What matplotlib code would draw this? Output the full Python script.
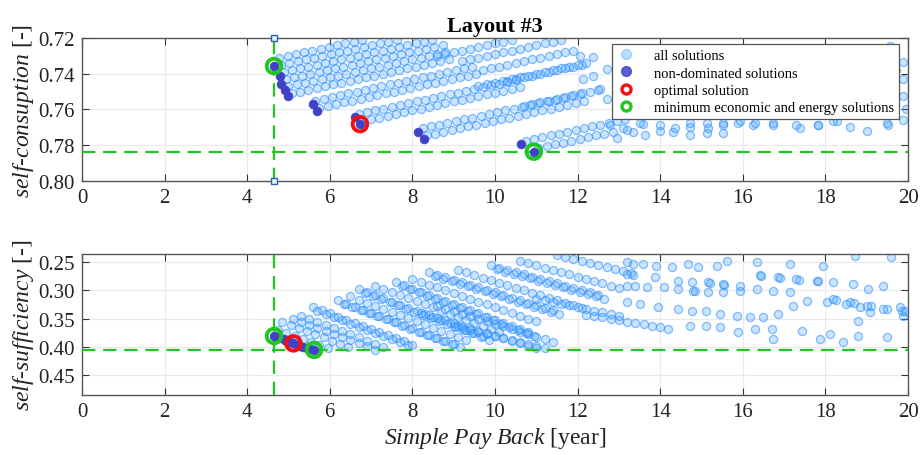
import matplotlib.pyplot as plt
from matplotlib.lines import Line2D
from matplotlib.ticker import FormatStrFormatter

plt.rcParams['font.family'] = ['Liberation Serif', 'DejaVu Serif']
plt.rcParams['mathtext.fontset'] = 'custom'
plt.rcParams['mathtext.it'] = 'Liberation Serif:italic'
plt.rcParams['mathtext.rm'] = 'Liberation Serif'

# ---------------- top panel: self-consuption ----------------
# all solutions, read streak by streak from the picture
top_streaks_x = [
    [4.78, 4.98, 5.18, 5.38, 5.58, 5.78, 5.98, 6.18, 6.38, 6.58, 6.78],
    [4.82, 5.02, 5.22, 5.42, 5.62, 5.82, 6.02, 6.22, 6.42, 6.62, 6.82, 7.02, 7.22, 7.42, 7.62],
    [4.88, 5.08, 5.28, 5.48, 5.68, 5.88, 6.08, 6.28, 6.48, 6.68, 6.88, 7.08, 7.28, 7.48, 7.68, 7.88, 8.08, 8.28, 8.48],
    [4.93, 5.13, 5.33, 5.53, 5.73, 5.93, 6.13, 6.33, 6.53, 6.73, 6.93, 7.13, 7.33, 7.53, 7.73, 7.93, 8.13, 8.33, 8.53, 8.73],
    [5.00, 5.20, 5.40, 5.60, 5.80, 6.00, 6.20, 6.40, 6.60, 6.80, 7.00, 7.20, 7.40, 7.60, 7.80, 8.00, 8.20, 8.40, 8.60, 8.80],
    [5.08, 5.28, 5.48, 5.68, 5.88, 6.08, 6.28, 6.48, 6.68, 6.88, 7.08, 7.28, 7.48, 7.68, 7.88, 8.08, 8.28, 8.48, 8.68, 8.88],
    [5.65, 5.85, 6.05, 6.25, 6.45, 6.65, 6.85, 7.05, 7.25, 7.45, 7.65, 7.85, 8.05, 8.25, 8.45, 8.65, 8.85, 9.05, 9.25, 9.45],
    [5.75, 5.95, 6.15, 6.35, 6.55, 6.75, 6.95, 7.15, 7.35, 7.55, 7.75, 7.95, 8.15, 8.35, 8.55, 8.75, 8.95, 9.15, 9.35, 9.55],
    [6.70, 6.90, 7.10, 7.30, 7.50, 7.70, 7.90, 8.10, 8.30, 8.50, 8.70, 8.90, 9.10, 9.30, 9.50, 9.70, 9.90, 10.10, 10.30, 10.50],
    [6.80, 7.00, 7.20, 7.40, 7.60, 7.80, 8.00, 8.20, 8.40, 8.60, 8.80, 9.00, 9.20, 9.40, 9.60, 9.80, 10.00, 10.20, 10.40, 10.60],
    [8.25, 8.45, 8.65, 8.85, 9.05, 9.25, 9.45, 9.65, 9.85, 10.05, 10.25, 10.45, 10.65, 10.85, 11.05, 11.25, 11.45, 11.65, 11.85, 12.05],
    [8.35, 8.55, 8.75, 8.95, 9.15, 9.35, 9.55, 9.75, 9.95, 10.15, 10.35, 10.55, 10.75, 10.95, 11.15, 11.35, 11.55, 11.75, 11.95, 12.15],
    [10.75, 10.95, 11.15, 11.35, 11.55, 11.75, 11.95, 12.15, 12.35, 12.55, 12.75, 12.95, 13.15],
    [11.05, 11.25, 11.45, 11.65, 11.85, 12.05, 12.25, 12.45, 12.65, 12.85],
    [8.60, 8.80, 9.00, 9.20, 9.40, 9.60, 9.80, 10.00, 10.20, 10.40],
    [9.20, 9.40, 9.60, 9.80, 10.00, 10.20, 10.40, 10.60, 10.80, 11.00, 11.20, 11.40, 11.60],
    [9.70, 9.90, 10.10, 10.30, 10.50, 10.70, 10.90, 11.10, 11.30, 11.50, 11.70, 11.90],
    [10.30, 10.50, 10.70, 10.90, 11.10, 11.30, 11.50, 11.70, 11.90, 12.10],
    [9.60, 9.80, 10.00, 10.20, 10.40, 10.60, 10.80, 11.00, 11.20, 11.40, 11.60, 11.80, 12.00, 12.20],
    [10.70, 10.90, 11.10, 11.30, 11.50, 11.70, 11.90, 12.10, 12.30, 12.50],
]
top_streaks_y = [
    [.731, .730, .729, .728, .727, .726, .725, .724, .723, .722, .721],
    [.735, .734, .733, .732, .731, .730, .729, .728, .727, .726, .725, .724, .723, .722, .721],
    [.739, .738, .737, .736, .735, .734, .733, .732, .731, .730, .729, .728, .727, .726, .725, .724, .723, .722, .721],
    [.743, .742, .741, .740, .739, .738, .737, .736, .735, .734, .733, .732, .731, .730, .729, .728, .727, .726, .725, .724],
    [.747, .746, .745, .744, .743, .742, .741, .740, .739, .738, .737, .736, .735, .734, .733, .732, .731, .730, .729, .728],
    [.751, .750, .749, .748, .747, .746, .745, .744, .743, .742, .741, .740, .739, .738, .737, .736, .735, .734, .733, .732],
    [.755, .754, .753, .752, .751, .750, .749, .748, .747, .746, .745, .744, .743, .742, .741, .740, .739, .738, .737, .736],
    [.759, .758, .757, .756, .755, .754, .753, .752, .751, .750, .749, .748, .747, .746, .745, .744, .743, .742, .741, .740],
    [.7625, .7615, .7605, .7595, .7585, .7575, .7565, .7555, .7545, .7535, .7525, .7515, .7505, .7495, .7485, .7475, .7465, .7455, .7445, .7435],
    [.7665, .7655, .7645, .7635, .7625, .7615, .7605, .7595, .7585, .7575, .7565, .7555, .7545, .7535, .7525, .7515, .7505, .7495, .7485, .7475],
    [.7705, .7695, .7685, .7675, .7665, .7655, .7645, .7635, .7625, .7615, .7605, .7595, .7585, .7575, .7565, .7555, .7545, .7535, .7525, .7515],
    [.7745, .7735, .7725, .7715, .7705, .7695, .7685, .7675, .7665, .7655, .7645, .7635, .7625, .7615, .7605, .7595, .7585, .7575, .7565, .7555],
    [.7775, .7765, .7755, .7745, .7735, .7725, .7715, .7705, .7695, .7685, .7675, .7665, .7655],
    [.7815, .7805, .7795, .7785, .7775, .7765, .7755, .7745, .7735, .7725],
    [.730, .729, .728, .727, .726, .725, .724, .723, .722, .721],
    [.733, .732, .731, .730, .729, .728, .727, .726, .725, .724, .723, .722, .721],
    [.738, .737, .736, .735, .734, .733, .732, .731, .730, .729, .728, .727],
    [.744, .743, .742, .741, .740, .739, .738, .737, .736, .735],
    [.747, .746, .745, .744, .743, .742, .741, .740, .739, .738, .737, .736, .735, .734],
    [.758, .757, .756, .755, .754, .753, .752, .751, .750, .749],
]
# scattered solutions on the right
top_sparse_x = [12.13, 12.38, 12.54, 12.70, 12.78, 12.95, 13.10, 13.35, 13.58, 13.99, 14.32, 14.72,
                15.16, 15.53, 15.93, 16.25, 16.73, 17.30, 17.82, 18.27, 19.52, 19.56, 19.88, 19.88,
                19.88, 13.19, 13.51, 13.63, 13.99, 14.36, 14.72, 15.13, 15.52, 15.89, 16.30, 16.73,
                17.38, 17.82, 18.18, 19.49, 19.88, 12.06, 12.37, 12.71, 12.95, 13.20, 14.72, 15.13,
                15.52, 18.60, 19.00, 19.95, 19.70]
top_sparse_y = [.7428, .7412, .7484, .7539, .7689, .7762, .7706, .7724, .7679, .7688, .7724, .7696,
                .7706, .7689, .7667, .7684, .7684, .7689, .7684, .7667, .7689, .7244, .7333, .7428,
                .7522, .7715, .7678, .7743, .7723, .7706, .7678, .7678, .7678, .7678, .7678, .7678,
                .7706, .7689, .7667, .7678, .7661, .7300, .7306, .7372, .7445, .7500, .7743, .7734,
                .7734, .7700, .7720, .7600, .7380]
top_nd_x = [4.65, 4.79, 4.83, 4.91, 4.98, 5.60, 5.70, 6.61, 6.73, 8.14, 8.28, 10.63, 10.94]
top_nd_y = [.7357, .7410, .7456, .7493, .7526, .7567, .7608, .7641, .7682, .7724, .7767, .7795, .7836]
top_opt_x, top_opt_y = [6.73], [.7682]
top_min_x, top_min_y = [4.65, 10.94], [.7357, .7836]
top_hline = 0.7836

# ---------------- bottom panel: self-sufficiency ----------------
bot_streaks_x = [
    [4.75, 4.95, 5.15, 5.35, 5.55, 5.75, 5.95],
    [4.85, 5.05, 5.25, 5.45, 5.65, 5.85, 6.05, 6.25, 6.45],
    [5.10, 5.30, 5.50, 5.70, 5.90, 6.10, 6.30, 6.50, 6.70, 6.90, 7.10],
    [5.30, 5.50, 5.70, 5.90, 6.10, 6.30, 6.50, 6.70, 6.90, 7.10, 7.30],
    [5.60, 5.80, 6.00, 6.20, 6.40, 6.60, 6.80, 7.00, 7.20, 7.40, 7.60, 7.80, 8.00],
    [5.70, 5.90, 6.10, 6.30, 6.50, 6.70, 6.90, 7.10, 7.30, 7.50, 7.70, 7.90],
    [6.20, 6.40, 6.60, 6.80, 7.00, 7.20, 7.40, 7.60, 7.80, 8.00, 8.20, 8.40, 8.60, 8.80, 9.00],
    [6.35, 6.55, 6.75, 6.95, 7.15, 7.35, 7.55, 7.75, 7.95, 8.15, 8.35, 8.55, 8.75, 8.95, 9.15],
    [6.70, 6.90, 7.10, 7.30, 7.50, 7.70, 7.90, 8.10, 8.30, 8.50, 8.70, 8.90, 9.10, 9.30, 9.50, 9.70],
    [6.85, 7.05, 7.25, 7.45, 7.65, 7.85, 8.05, 8.25, 8.45, 8.65, 8.85, 9.05, 9.25, 9.45, 9.65, 9.85],
    [7.60, 7.80, 8.00, 8.20, 8.40, 8.60, 8.80, 9.00, 9.20, 9.40, 9.60, 9.80, 10.00, 10.20, 10.40, 10.60, 10.80],
    [7.75, 7.95, 8.15, 8.35, 8.55, 8.75, 8.95, 9.15, 9.35, 9.55, 9.75, 9.95, 10.15, 10.35, 10.55, 10.75, 10.95],
    [8.40, 8.60, 8.80, 9.00, 9.20, 9.40, 9.60, 9.80, 10.00, 10.20, 10.40, 10.60, 10.80, 11.00, 11.20, 11.40],
    [8.55, 8.75, 8.95, 9.15, 9.35, 9.55, 9.75, 9.95, 10.15, 10.35, 10.55, 10.75, 10.95, 11.15, 11.35, 11.55],
    [9.90, 10.10, 10.30, 10.50, 10.70, 10.90, 11.10, 11.30, 11.50, 11.70, 11.90, 12.10, 12.30, 12.50],
    [10.05, 10.25, 10.45, 10.65, 10.85, 11.05, 11.25, 11.45, 11.65, 11.85, 12.05, 12.25, 12.45, 12.65],
    [11.50, 11.70, 11.90, 12.10, 12.30, 12.50, 12.70, 12.90, 13.10, 13.30],
    [8.20, 8.40, 8.60, 8.80, 9.00, 9.20, 9.40, 9.60, 9.80, 10.00, 10.20, 10.40, 10.60, 10.80, 11.00],
    [8.60, 8.80, 9.00, 9.20, 9.40, 9.60, 9.80, 10.00, 10.20, 10.40, 10.60, 10.80, 11.00, 11.20, 11.40],
    [12.20, 12.40, 12.60, 12.80, 13.00, 13.20, 13.40, 13.60, 13.80, 14.00, 14.20],
    [11.00, 11.20, 11.40, 11.60, 11.80, 12.00, 12.20, 12.40, 12.60, 12.80, 13.00],
    [6.50, 6.70, 6.90, 7.10, 7.30, 7.50, 7.70, 7.90, 8.10, 8.30, 8.50, 8.70, 8.90, 9.10, 9.30],
    [7.10, 7.30, 7.50, 7.70, 7.90, 8.10, 8.30, 8.50, 8.70, 8.90, 9.10, 9.30, 9.50, 9.70, 9.90, 10.10],
    [8.00, 8.20, 8.40, 8.60, 8.80, 9.00, 9.20, 9.40, 9.60, 9.80, 10.00, 10.20, 10.40, 10.60, 10.80, 11.00],
    [9.10, 9.30, 9.50, 9.70, 9.90, 10.10, 10.30, 10.50, 10.70, 10.90, 11.10, 11.30, 11.50, 11.70, 11.90, 12.10],
    [10.60, 10.80, 11.00, 11.20, 11.40, 11.60, 11.80, 12.00, 12.20, 12.40, 12.60, 12.80, 13.00],
    [9.00, 9.20, 9.40, 9.60, 9.80, 10.00, 10.20, 10.40, 10.60, 10.80, 11.00, 11.20],
]
bot_streaks_y = [
    [.3700, .3755, .3810, .3865, .3920, .3975, .4030],
    [.3560, .3615, .3670, .3725, .3780, .3835, .3890, .3945, .4000],
    [.3500, .3555, .3610, .3665, .3720, .3775, .3830, .3885, .3940, .3995, .4050],
    [.3450, .3505, .3560, .3615, .3670, .3725, .3780, .3835, .3890, .3945, .4000],
    [.3300, .3355, .3410, .3465, .3520, .3575, .3630, .3685, .3740, .3795, .3850, .3905, .3960],
    [.3370, .3425, .3480, .3535, .3590, .3645, .3700, .3755, .3810, .3865, .3920, .3975],
    [.3180, .3235, .3290, .3345, .3400, .3455, .3510, .3565, .3620, .3675, .3730, .3785, .3840, .3895, .3950],
    [.3240, .3295, .3350, .3405, .3460, .3515, .3570, .3625, .3680, .3735, .3790, .3845, .3900, .3955, .4010],
    [.2980, .3035, .3090, .3145, .3200, .3255, .3310, .3365, .3420, .3475, .3530, .3585, .3640, .3695, .3750, .3805],
    [.3050, .3105, .3160, .3215, .3270, .3325, .3380, .3435, .3490, .3545, .3600, .3655, .3710, .3765, .3820, .3875],
    [.2860, .2915, .2970, .3025, .3080, .3135, .3190, .3245, .3300, .3355, .3410, .3465, .3520, .3575, .3630, .3685, .3740],
    [.2930, .2985, .3040, .3095, .3150, .3205, .3260, .3315, .3370, .3425, .3480, .3535, .3590, .3645, .3700, .3755, .3810],
    [.2680, .2725, .2770, .2815, .2860, .2905, .2950, .2995, .3040, .3085, .3130, .3175, .3220, .3265, .3310, .3355],
    [.2750, .2795, .2840, .2885, .2930, .2975, .3020, .3065, .3110, .3155, .3200, .3245, .3290, .3335, .3380, .3425],
    [.2560, .2600, .2640, .2680, .2720, .2760, .2800, .2840, .2880, .2920, .2960, .3000, .3040, .3080],
    [.2630, .2670, .2710, .2750, .2790, .2830, .2870, .2910, .2950, .2990, .3030, .3070, .3110, .3150],
    [.2380, .2415, .2450, .2485, .2520, .2555, .2590, .2625, .2660, .2695],
    [.3400, .3445, .3490, .3535, .3580, .3625, .3670, .3715, .3760, .3805, .3850, .3895, .3940, .3985, .4030],
    [.3280, .3325, .3370, .3415, .3460, .3505, .3550, .3595, .3640, .3685, .3730, .3775, .3820, .3865, .3910],
    [.3430, .3455, .3480, .3505, .3530, .3555, .3580, .3605, .3630, .3655, .3680],
    [.3150, .3180, .3210, .3240, .3270, .3300, .3330, .3360, .3390, .3420, .3450],
    [.3110, .3165, .3220, .3275, .3330, .3385, .3440, .3495, .3550, .3605, .3660, .3715, .3770, .3825, .3880],
    [.2920, .2975, .3030, .3085, .3140, .3195, .3250, .3305, .3360, .3415, .3470, .3525, .3580, .3635, .3690, .3745],
    [.2800, .2850, .2900, .2950, .3000, .3050, .3100, .3150, .3200, .3250, .3300, .3350, .3400, .3450, .3500, .3550],
    [.2640, .2685, .2730, .2775, .2820, .2865, .2910, .2955, .3000, .3045, .3090, .3135, .3180, .3225, .3270, .3315],
    [.2480, .2520, .2560, .2600, .2640, .2680, .2720, .2760, .2800, .2840, .2880, .2920, .2960],
    [.3640, .3675, .3710, .3745, .3780, .3815, .3850, .3885, .3920, .3955, .3990, .4025],
]
bot_sparse_x = [13.19, 13.35, 13.59, 13.91, 14.28, 14.68, 14.92, 15.37, 15.61, 16.34, 17.14, 17.95, 18.72, 19.60,
                13.19, 13.35, 13.87, 14.44, 14.76, 15.16, 15.53, 15.93, 16.42, 16.86, 17.30, 17.79, 18.19, 18.68,
                19.04, 19.40, 13.19, 13.39, 13.67, 14.08, 14.44, 14.84, 15.16, 15.53, 15.93, 16.34, 16.74, 17.14,
                18.19, 18.59, 19.00, 19.40, 19.80, 19.93, 13.19, 13.51, 13.95, 14.44, 14.76, 15.12, 15.45, 15.85,
                16.17, 16.50, 16.86, 17.22, 17.55, 18.03, 18.51, 18.84, 19.08, 14.72, 15.12, 15.45, 15.89, 16.30,
                16.70, 16.74, 17.43, 17.87, 18.11, 18.43, 18.80, 18.80, 19.48, 19.89, 16.45, 16.90, 17.35, 17.82,
                18.25, 18.70, 19.10, 19.50, 19.85, 15.20, 15.55, 14.80]
bot_sparse_y = [.2506, .2535, .2535, .2565, .2594, .2535, .2594, .2565, .2476, .2506, .2535, .2565, .2388, .2418,
                .2712, .2730, .2771, .2830, .2859, .2859, .2889, .2918, .2730, .2771, .2800, .2830, .2859, .2889,
                .2977, .2918, .2918, .2918, .2948, .2948, .2977, .3007, .3036, .3036, .3007, .2977, .3007, .3036,
                .3154, .3213, .3272, .3330, .3301, .3360, .3213, .3242, .3301, .3330, .3360, .3360, .3419, .3448,
                .3478, .3478, .3419, .3272, .3183, .3213, .3242, .3301, .3389, .3625, .3625, .3654, .3743, .3684,
                .3684, .3860, .3713, .3860, .3772, .3919, .3537, .3802, .3831, .3448, .2745, .2785, .2815, .2845,
                .3165, .3225, .3285, .3340, .3370, .2875, .2905, .3020]
bot_nd_x = [4.65, 4.72, 4.80, 4.88, 4.95, 5.03, 5.12, 5.20, 5.28, 5.36, 5.45, 5.53, 5.62]
bot_nd_y = [.381, .383, .385, .387, .389, .391, .394, .396, .398, .400, .402, .404, .4055]
bot_opt_x, bot_opt_y = [5.12], [.394]
bot_min_x, bot_min_y = [4.65, 5.62], [.381, .4055]
bot_hline = 0.4055

spb_min = 4.65  # minimum simple pay back (vertical line)

ALL_FACE = (0.22, 0.60, 1.00, 0.26)
ALL_EDGE = (0.18, 0.56, 1.00, 0.58)
ND_COLOR = '#4141c8'
RED = '#f01010'
GREEN = '#1ec81e'


def flat(streaks):
    return [v for s in streaks for v in s]


fig = plt.figure(figsize=(9.21, 4.56), dpi=100)
ax1 = fig.add_axes([0.0890, 0.6009, 0.8969, 0.3136])
ax2 = fig.add_axes([0.0890, 0.1316, 0.8969, 0.3092])

panels = [
    (ax1, flat(top_streaks_x) + top_sparse_x, flat(top_streaks_y) + top_sparse_y,
     top_nd_x, top_nd_y, top_opt_x, top_opt_y, top_min_x, top_min_y, top_hline,
     (0.80, 0.72), [0.72, 0.74, 0.76, 0.78, 0.80], r'$\mathit{self}$-$\mathit{consuption}$ [-]'),
    (ax2, flat(bot_streaks_x) + bot_sparse_x, flat(bot_streaks_y) + bot_sparse_y,
     bot_nd_x, bot_nd_y, bot_opt_x, bot_opt_y, bot_min_x, bot_min_y, bot_hline,
     (0.4853, 0.2359), [0.25, 0.30, 0.35, 0.40, 0.45], r'$\mathit{self}$-$\mathit{sufficiency}$ [-]'),
]

for ax, ax_x, ax_y, nd_x, nd_y, op_x, op_y, mn_x, mn_y, hline, ylim, yticks, ylabel in panels:
    ax.scatter(ax_x, ax_y, s=34, facecolors=ALL_FACE, edgecolors=ALL_EDGE, linewidths=0.9, zorder=2)
    ax.axhline(hline, color=GREEN, lw=1.6, ls=(0, (6, 3.5)), zorder=3)
    if ax is ax1:
        ax.plot([spb_min, spb_min], list(ylim), color=GREEN, lw=1.6, ls=(0, (6, 3.5)),
                marker='s', ms=4.5, mfc='#e4f0ff', mec='#2a64b8', mew=1.0, clip_on=False, zorder=3)
    else:
        ax.axvline(spb_min, color=GREEN, lw=1.6, ls=(0, (6, 3.5)), zorder=3)
    ax.scatter(nd_x, nd_y, s=40, color=ND_COLOR, edgecolors=ND_COLOR, linewidths=0.5, zorder=4)
    ax.scatter(op_x, op_y, s=110, facecolors='none', edgecolors=RED, linewidths=2.8, zorder=5)
    ax.scatter(mn_x, mn_y, s=110, facecolors='none', edgecolors=GREEN, linewidths=2.8, zorder=5)

    ax.set_xlim(0, 20)
    ax.set_ylim(ylim)
    ax.set_xticks(range(0, 21, 2))
    ax.set_yticks(yticks)
    ax.yaxis.set_major_formatter(FormatStrFormatter('%.2f'))
    ax.tick_params(direction='in', top=True, right=True, labelsize=15, length=5, width=0.8,
                   colors='#333333', labelcolor='#222222', pad=5)
    ax.grid(True, color='#e9e9e9', lw=0.8)
    ax.set_axisbelow(True)
    for sp in ax.spines.values():
        sp.set_color('#555555')
        sp.set_linewidth(1.0)
    ax.set_ylabel(ylabel, fontsize=17, labelpad=2, color='#222222')

ax1.set_title('Layout #3', fontsize=16, fontweight='bold', pad=5)
ax2.set_xlabel(r'$\mathit{Simple\ Pay\ Back}$ [year]', fontsize=17, labelpad=3, color='#222222')

handles = [
    Line2D([], [], ls='none', marker='o', ms=7, mfc=(0.55, 0.80, 1.0), mec=(0.45, 0.72, 1.0), alpha=0.6),
    Line2D([], [], ls='none', marker='o', ms=7, mfc=ND_COLOR, mec=ND_COLOR, alpha=0.85),
    Line2D([], [], ls='none', marker='o', ms=6.5, mfc='white', mec=RED, mew=2.4),
    Line2D([], [], ls='none', marker='o', ms=6.5, mfc='white', mec=GREEN, mew=2.4),
]
labels = ['all solutions', 'non-dominated solutions', 'optimal solution',
          'minimum economic and energy solutions']
leg = ax1.legend(handles, labels, loc='upper right', bbox_to_anchor=(0.989, 0.958), fontsize=10.5,
                 frameon=True, fancybox=False, framealpha=1, edgecolor='#555555',
                 handlelength=1.2, handletextpad=1.3, borderpad=0.35, labelspacing=0.28,
                 borderaxespad=0)
leg.get_frame().set_linewidth(0.9)
leg.set_zorder(10)

fig.savefig('out.png', dpi=100)
